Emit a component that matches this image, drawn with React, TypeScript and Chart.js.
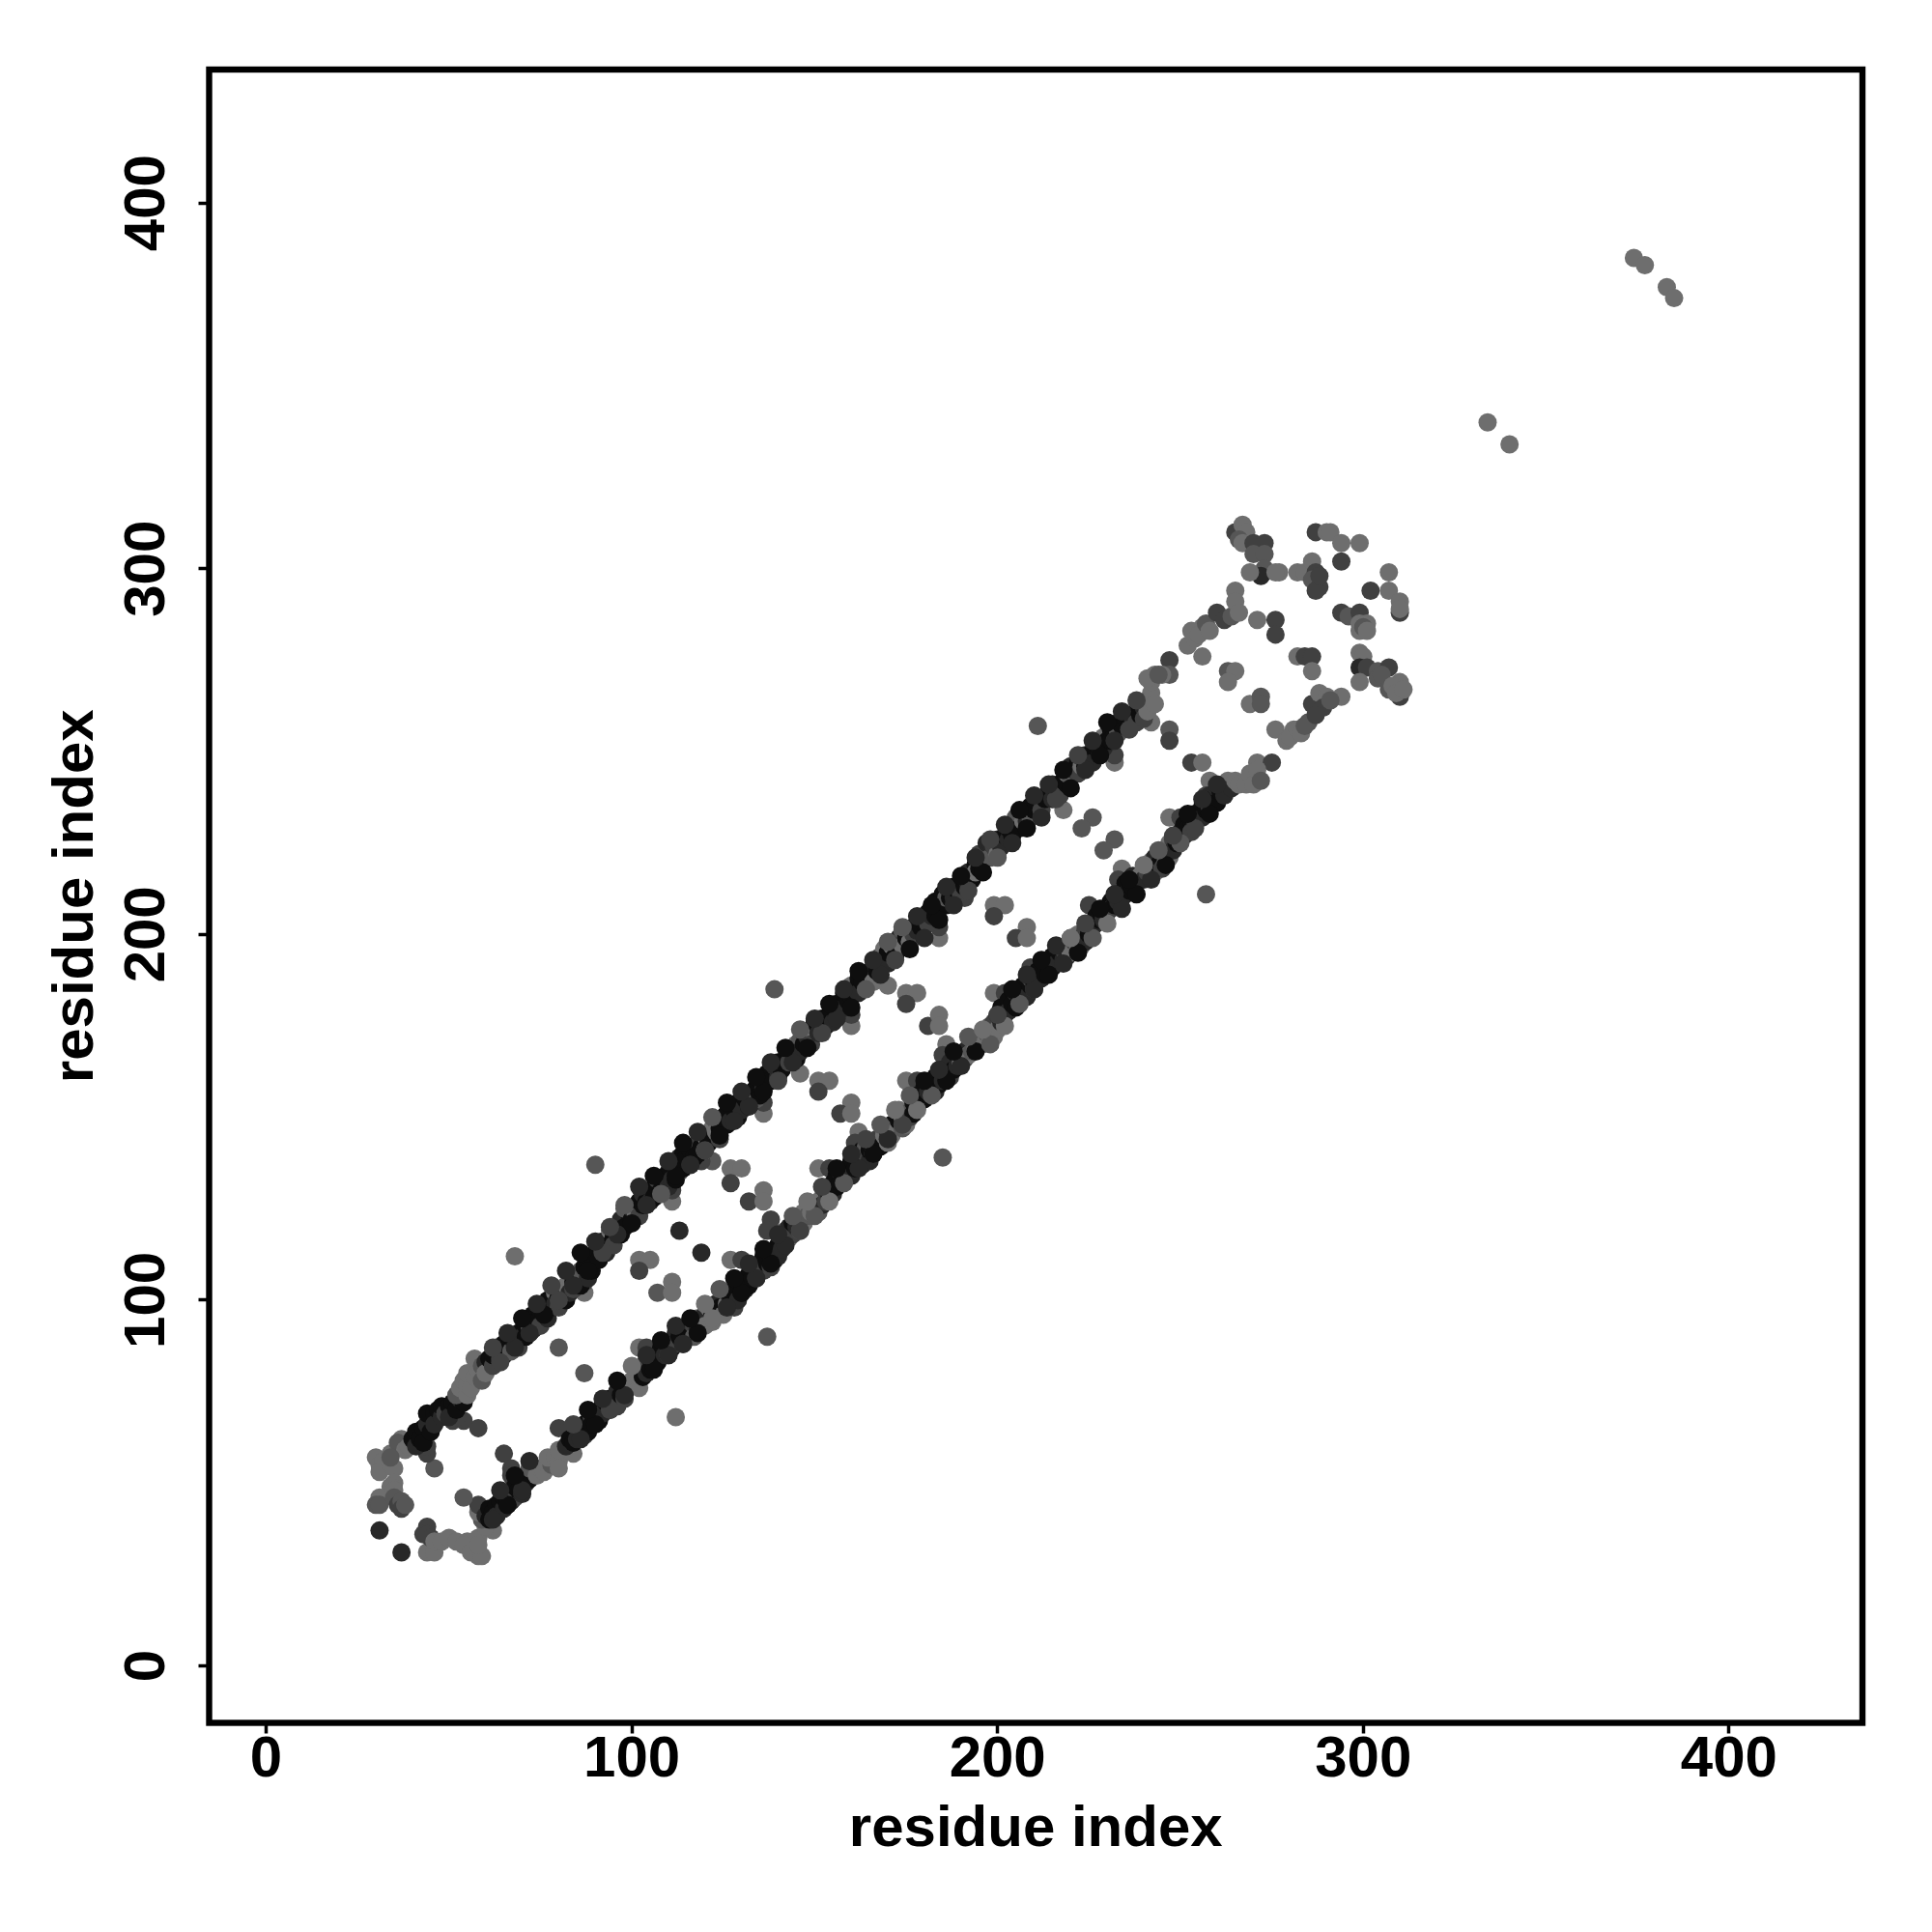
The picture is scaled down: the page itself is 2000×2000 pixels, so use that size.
import React, { useEffect, useRef } from "react";
import { Chart, registerables } from "chart.js";

Chart.register(...registerables);

const axisTicks = [0, 100, 200, 300, 400];
const axisTitle = "residue index";

const upperOuterX = [62,66,70,74,78,82,86,90,94,98,102,106,110,114,118,122,126,130,134,138,142,146,150,154,158,162,166,170,174,178,182,186,190,194,198,202,206,210,214,218,222,226,230,234,238];
const upperOuterY = [87,91,95,99,104,108,113,116,120,126,131,134,138,143,146,150,154,157,161,165,169,174,177,181,185,190,193,198,202,205,208,213,216,221,226,230,234,238,241,245,249,253,258,261,264];
const upperOuterScore = [3,4,5,4,3,4,5,4,3,2,4,5,4,5,4,2,5,4,5,4,5,2,4,5,4,5,4,2,2,4,5,4,5,4,3,4,5,4,4,5,3,4,5,4,3];

const upperInnerX = [64,68,72,76,80,84,88,92,96,100,104,108,112,116,120,124,128,132,136,140,144,148,152,156,160,164,168,172,176,180,184,188,192,196,200,204,208,212,216,220,224,228,232,236];
const upperInnerY = [83,87,91,96,100,104,108,113,118,121,126,129,134,137,141,145,149,153,157,160,165,169,173,177,180,185,189,193,196,199,204,208,212,217,221,225,229,232,237,240,245,249,253,256];
const upperInnerScore = [3,4,4,5,3,4,5,3,4,5,4,2,5,4,3,5,4,4,5,3,4,5,3,4,5,2,4,3,5,4,5,4,3,5,2,4,5,4,3,5,4,5,4,3];

const lowerOuterX = [64,68,72,84,88,92,96,100,104,108,112,116,120,124,128,132,136,140,144,148,152,156,160,164,168,172,176,180,184,188,192,196,200,204,208,212,216,220,224,228,232,236,240,244,248,252,256,260];
const lowerOuterY = [48,52,56,66,70,73,78,82,85,89,93,95,99,103,106,110,114,118,123,127,131,136,140,144,148,152,156,160,163,168,172,174,178,185,189,193,197,199,203,207,211,215,219,223,227,233,237,241];
const lowerOuterScore = [4,5,4,3,5,4,5,1,4,5,4,5,1,2,5,4,5,4,2,1,3,5,4,3,2,1,2,5,4,5,2,1,3,5,4,5,4,1,3,5,4,5,1,2,3,5,4,4];

const lowerInnerX = [62,66,70,86,90,94,98,106,110,114,118,122,126,130,134,138,142,146,150,154,158,162,166,170,174,178,182,186,190,194,198,202,206,210,214,218,222,226,230,234,238,242,246,250,254,258];
const lowerInnerY = [40,44,48,62,66,70,74,81,85,88,91,95,98,102,106,110,115,119,123,127,132,136,140,144,148,152,156,160,164,168,170,175,181,185,189,192,195,199,203,207,211,215,219,225,229,233];
const lowerInnerScore = [4,5,4,4,5,3,4,5,4,4,5,1,4,5,4,5,4,3,2,1,2,4,5,4,3,1,2,5,4,5,2,1,2,4,5,4,5,2,1,4,5,4,5,2,3,5];

const upperX = [
  40,41,41,42,43,43,44,44,45,46,46,47,48,48,49,50,50,51,52,53,
  54,52,53,54,55,55,56,55,57,58,59,57,59,60,60,61,62,62,63,64,
  64,65,65,66,67,67,68,69,69,70,71,71,72,72,73,73,74,75,75,76,
  77,77,78,79,79,80,80,81,82,82,83,84,84,85,86,86,87,88,88,89,
  90,91,92,92,93,94,94,95,95,96,97,97,98,99,98,100,100,101,102,102,
  103,103,104,105,105,106,107,107,108,109,110,110,111,112,112,113,113,114,114,115,
  116,116,117,118,118,119,120,120,121,122,122,123,123,124,124,125,126,126,127,128,
  129,129,130,131,132,133,134,134,135,136,136,137,138,139,140,140,141,142,143,144,
  145,145,146,146,147,147,148,149,149,150,151,152,153,154,155,156,156,157,158,158,
  159,160,160,161,162,162,163,164,165,166,166,167,168,168,169,169,170,170,171,172,
  172,173,173,174,174,175,176,177,177,178,179,179,180,181,181,182,183,183,184,185,
  186,186,187,188,188,189,190,190,191,192,192,193,194,194,195,195,196,197,197,198,
  198,199,200,200,201,202,203,203,204,205,205,206,207,207,208,209,209,210,211,212,
  213,214,215,215,216,217,218,219,219,220,220,221,222,222,223,224,224,225,226,226,
  227,228,228,229,229,230,231,231,232,233,233,234,235,236,236,237,238,238,239,240,
  240,241,241,242,243,242,243,241,245,244,
];
const upperY = [
  62,60,64,62,65,61,66,69,64,69,66,70,68,71,69,71,68,72,70,73,
  72,74,76,78,74,77,76,80,79,81,78,84,82,83,80,84,82,85,87,84,
  87,85,88,87,90,86,88,91,87,90,93,90,91,93,96,92,94,97,93,98,
  95,100,98,102,99,101,98,103,100,104,102,105,103,107,104,108,109,106,110,108,
  113,111,114,116,113,116,119,117,115,120,122,118,120,124,125,122,125,124,127,123,
  126,129,127,130,127,128,131,133,130,132,131,135,133,137,133,135,139,136,140,139,
  137,141,139,143,140,142,141,145,143,147,144,149,146,147,144,150,148,151,149,152,
  150,154,152,155,153,157,155,158,156,160,158,162,160,164,161,165,163,166,165,168,
  170,166,171,168,173,170,172,174,170,176,173,177,175,178,176,181,178,180,184,180,
  182,186,183,185,188,184,187,189,188,191,187,190,194,191,193,196,192,195,197,194,
  198,196,199,201,197,199,198,202,200,201,204,202,203,206,203,205,209,205,207,211,
  208,210,210,213,210,212,214,211,213,217,214,215,219,217,218,222,220,222,225,221,
  225,224,226,222,224,227,226,229,227,230,232,229,233,231,231,235,232,234,236,234,
  237,239,237,241,240,238,242,241,244,246,243,245,247,244,246,249,246,248,250,247,
  251,249,252,254,251,253,256,253,255,258,255,257,259,257,260,259,261,258,260,262,
  259,264,261,266,263,269,271,270,271,271,
];
const upperScore = [
  5,4,5,5,5,5,4,5,5,5,4,5,4,5,3,5,4,5,5,4,
  5,2,1,1,1,1,1,1,1,1,2,1,2,4,1,5,3,5,5,3,
  5,4,5,5,5,2,5,5,3,4,5,5,5,2,5,4,5,5,3,5,
  4,5,5,1,4,5,3,5,5,1,4,5,3,5,5,2,5,4,5,5,
  5,5,2,5,4,5,1,5,3,1,4,5,5,5,2,5,4,1,5,3,
  5,4,5,5,4,5,5,3,5,5,4,5,4,5,5,2,4,5,5,5,
  4,5,5,3,5,5,1,1,5,1,5,2,1,5,3,4,5,5,4,5,
  5,5,4,5,5,5,2,5,5,5,4,5,5,4,4,5,5,5,3,1,
  1,5,2,4,3,5,4,1,3,5,4,5,5,5,4,5,5,5,5,4,
  5,1,5,5,5,4,5,5,5,4,1,5,2,5,5,1,4,5,1,5,
  2,5,4,2,1,5,1,5,3,4,5,5,5,5,3,4,5,5,5,5,
  5,2,5,5,4,5,5,3,5,4,4,5,5,1,5,3,5,1,4,2,
  4,3,4,1,4,5,4,5,5,5,2,5,5,1,4,5,2,5,5,3,
  5,5,4,4,5,3,5,5,1,4,2,5,5,3,1,4,5,1,5,4,
  5,4,5,1,4,5,5,5,5,4,2,5,5,5,5,4,5,3,5,4,
  3,1,1,1,1,1,1,1,1,2,
];

const lowerX = [
  60,61,61,62,63,63,64,65,65,66,67,67,68,68,69,70,70,71,71,72,
  73,72,74,75,76,77,78,77,79,80,80,80,84,82,83,84,85,85,86,87,
  87,88,89,89,90,91,92,92,93,94,94,95,96,96,97,98,98,99,100,101,
  102,102,103,103,104,105,105,106,107,107,108,109,110,110,111,112,112,113,114,115,
  116,116,117,117,118,118,119,120,120,121,122,122,123,123,124,125,126,126,127,128,
  128,129,130,130,131,132,132,133,134,134,135,136,136,137,138,138,139,140,140,141,
  141,142,142,143,143,144,144,145,146,146,147,147,148,149,149,150,151,151,152,152,
  153,153,154,155,155,156,156,157,157,158,159,160,160,161,162,163,163,164,164,165,
  165,166,166,167,168,169,170,170,171,171,172,173,174,174,175,175,176,177,177,178,
  178,179,180,180,181,182,183,183,184,185,185,186,187,187,188,189,189,190,191,191,
  192,192,193,194,194,195,196,196,197,198,198,199,199,200,200,201,201,202,203,203,
  204,205,205,206,207,207,208,209,209,210,210,211,212,212,213,214,215,215,216,217,
  218,218,219,219,220,220,221,222,222,223,223,224,224,225,225,226,227,227,228,229,
  229,230,231,231,232,233,233,234,235,235,236,237,237,238,239,240,240,241,241,242,
  243,243,244,245,245,246,246,247,247,248,248,249,250,250,251,251,252,253,253,254,
  254,255,256,256,257,258,258,259,260,260,261,262,262,263,264,265,266,268,269,270,271,272,
];
const lowerY = [
  41,43,40,42,44,41,45,43,46,44,47,45,46,49,48,49,47,52,50,51,
  53,54,52,54,53,55,55,57,57,56,59,54,58,60,62,61,64,62,65,63,
  66,64,68,66,69,67,71,69,72,70,73,72,75,71,74,76,73,76,78,77,
  76,79,79,82,80,84,81,82,85,83,87,85,88,85,87,91,88,90,88,92,
  90,94,93,90,95,92,93,96,93,98,96,94,97,99,98,96,99,102,101,98,
  103,100,105,102,103,107,104,106,109,106,110,108,112,110,113,109,111,115,112,118,
  114,116,119,120,117,118,121,120,122,119,124,121,123,126,124,125,127,124,128,126,
  130,127,129,132,129,131,134,135,132,134,136,134,138,136,139,137,141,140,142,138,
  141,143,140,144,142,145,143,146,148,145,147,149,147,150,151,148,150,154,151,156,
  153,155,158,155,157,160,157,161,159,163,160,162,161,165,163,167,164,165,168,166,
  169,167,168,171,169,170,172,170,173,171,175,172,176,174,178,176,180,178,182,179,
  181,180,184,182,186,184,183,186,188,185,187,190,188,191,189,193,191,194,192,195,
  193,196,194,197,195,199,198,196,200,197,199,201,198,203,200,202,205,203,204,207,
  204,206,209,207,208,211,209,210,214,211,212,216,213,215,216,218,215,217,219,220,
  217,221,219,223,218,220,222,225,221,226,223,225,228,226,230,227,229,231,228,233,
  230,232,235,232,234,238,235,237,240,236,239,241,238,242,240,242,241,241,244,241,245,242,
];
const lowerScore = [
  4,5,5,5,5,4,5,4,5,5,5,4,3,5,5,5,4,5,4,5,
  5,2,1,1,1,1,2,1,1,1,1,1,1,4,5,5,5,4,5,3,
  5,5,3,5,5,5,5,4,5,4,5,5,4,3,5,5,3,4,1,1,
  1,1,5,3,4,5,5,5,5,5,5,4,2,3,5,4,3,5,4,5,
  5,4,3,2,2,4,1,4,1,1,5,1,2,4,5,1,1,3,5,3,
  5,4,5,5,4,5,5,5,5,4,5,3,5,5,4,3,5,5,4,5,
  4,5,2,4,1,3,5,4,1,2,1,1,2,1,1,2,1,2,1,4,
  4,3,5,5,4,5,5,4,5,5,5,4,5,5,5,4,5,3,2,4,
  5,1,3,3,5,1,1,4,5,1,1,5,2,1,2,1,3,5,5,5,
  5,5,5,5,4,5,4,5,5,5,4,5,3,4,5,5,4,1,5,3,
  4,1,2,4,1,2,4,1,2,1,2,1,3,1,4,4,5,5,5,4,
  5,5,4,5,5,5,4,5,3,3,5,5,4,5,5,4,5,5,4,5,
  4,3,4,2,1,1,3,1,1,1,5,3,4,5,5,5,5,4,5,5,
  4,5,5,3,5,5,4,5,5,4,5,4,5,4,1,1,4,3,2,1,
  1,4,5,2,3,2,1,1,1,3,4,5,4,5,5,4,5,5,3,5,
  4,5,5,4,5,4,3,5,4,5,5,2,4,1,4,1,1,1,1,1,1,2,
];

const startX = [
  30,31,32,31,34,34,35,35,34,35,31,30,31,35,36,37,37,38,31,37,
  44,46,44,43,44,45,46,48,50,52,55,54,57,56,58,59,58,58,62,60,
  59,58,58,54,65,67,67,68,46,44,44,58,54,51,52,37,36,38,34,39,
];
const startY = [
  57,55,56,53,55,58,54,50,49,48,46,44,44,46,44,45,43,44,37,31,
  31,31,38,36,36,35,34,34,35,34,34,33,31,31,30,30,35,33,37,38,
  40,42,44,46,58,54,52,50,54,58,60,65,67,67,68,62,61,59,57,60,
];
const startScore = [
  1,1,1,1,1,1,1,1,1,1,1,2,2,2,3,2,3,2,4,4,
  1,1,3,3,3,3,1,1,1,1,1,1,1,1,1,1,1,1,1,1,
  2,1,3,2,3,3,3,3,2,3,3,3,3,3,3,1,2,1,2,1,
];

const scatterX = [
  80,87,102,104,80,68,90,112,137,119,113,102,105,102,107,111,111,127,130,127,
  130,127,136,132,136,138,137,122,119,115,111,111,87,87,146,151,154,151,160,157,
  160,136,136,162,161,151,154,175,178,160,160,173,139,199,202,199,208,205,208,184,
  184,191,170,175,178,175,181,184,184,186,185,199,202,209,185,232,232,253,256,218,
  226,223,232,229,234,233,225,247,250,257,211,242,247,247,258,257,
];
const scatterY = [
  87,80,87,87,65,112,137,68,90,113,119,111,111,108,102,105,102,111,111,136,
  136,132,130,127,127,122,119,138,138,138,127,130,102,105,162,160,160,157,154,151,
  151,151,154,146,143,136,136,160,160,175,178,152,185,208,208,205,202,199,199,199,
  202,210,186,184,184,181,175,178,175,170,167,184,184,191,139,247,249,247,247,234,
  232,229,226,223,218,215,208,232,232,211,257,258,256,253,242,238,
];
const scatterScore = [
  2,2,1,3,3,1,2,1,2,4,4,1,1,3,2,1,1,1,3,1,
  1,3,1,3,1,3,3,2,3,1,1,3,1,3,1,1,1,3,1,3,
  1,1,3,1,3,1,3,1,3,1,3,1,2,1,1,3,1,3,1,1,
  3,3,1,1,1,3,3,1,1,1,3,1,3,3,2,1,3,3,1,1,
  2,2,2,2,1,3,3,1,3,2,2,1,2,3,1,3,
];

const endX = [
  247,247,252,254,256,256,253,255,257,258,260,262,264,265,265,266,263,265,263,269,
  272,272,271,276,276,271,275,276,279,281,280,282,283,285,284,286,288,290,294,289,
  287,291,282,284,286,286,265,267,268,266,267,270,273,270,273,273,272,269,277,276,
  287,290,291,294,299,294,282,284,286,287,286,288,287,288,307,302,307,310,310,310,
  294,296,299,299,299,301,300,301,299,300,299,301,304,304,307,305,307,310,299,310,308,309,311,
];
const endY = [
  275,271,279,281,276,284,283,282,285,283,288,286,287,294,291,288,272,272,269,263,
  265,263,286,286,282,247,247,256,253,256,254,256,255,258,257,263,266,265,265,262,
  260,264,276,276,276,272,310,312,310,308,307,307,307,304,304,300,298,299,299,299,
  310,310,310,307,307,302,299,299,302,299,297,295,294,298,299,294,294,288,291,289,
  288,287,288,283,285,285,284,283,277,276,273,273,272,270,273,271,267,265,269,269,268,266,267,
];
const endScore = [
  3,2,1,1,1,1,1,1,2,1,3,3,2,1,1,1,2,1,1,1,
  2,2,1,3,3,1,3,1,1,1,1,1,1,2,2,3,1,1,1,3,
  3,2,1,3,3,1,3,1,1,2,1,3,3,2,2,2,4,1,1,1,
  3,1,1,1,1,3,1,1,1,3,2,3,3,3,1,3,1,3,1,1,
  3,2,3,1,1,1,2,1,1,1,4,3,2,2,3,2,2,3,1,1,1,1,1,
];

const farX = [334, 340, 374, 377, 383, 385];
const farY = [340, 334, 385, 383, 377, 374];
const farScore = [1, 1, 1, 1, 1, 1];

const AXIS_MIN = -15.6;
const AXIS_MAX = 436.5;
const FONT = '"Liberation Sans", Arial, sans-serif';
const GREYS: Record<number, string> = {
  1: "#6e6e6e",
  2: "#565656",
  3: "#404040",
  4: "#282828",
  5: "#0e0e0e",
};

function makeDataset(label: string, xs: number[], ys: number[], scores: number[]) {
  return {
    label,
    data: xs.map((x, i) => ({ x, y: ys[i] })),
    pointBackgroundColor: scores.map((s) => GREYS[s] ?? GREYS[1]),
    pointBorderWidth: 0,
    pointRadius: 9.5,
    pointHoverRadius: 9.5,
    showLine: false,
  };
}

const framePlugin = {
  id: "frame",
  afterDatasetsDraw(chart: any) {
    const { ctx, chartArea: a } = chart;
    ctx.save();
    ctx.strokeStyle = "#000";
    ctx.lineWidth = 6.4;
    ctx.strokeRect(a.left, a.top, a.right - a.left, a.bottom - a.top);
    ctx.restore();
  },
};

function axisOptions(sideSize: number, isX: boolean) {
  return {
    type: "linear",
    min: AXIS_MIN,
    max: AXIS_MAX,
    afterBuildTicks(scale: any) {
      scale.ticks = axisTicks.map((value) => ({ value }));
    },
    afterFit(scale: any) {
      if (isX) scale.height = sideSize;
      else scale.width = sideSize;
    },
    border: { display: false },
    grid: {
      drawOnChartArea: false,
      drawTicks: true,
      tickLength: 11,
      tickWidth: 3.5,
      tickColor: "#000",
    },
    ticks: {
      autoSkip: false,
      includeBounds: false,
      color: "#000",
      font: { family: FONT, size: 60, weight: "bold" },
      padding: isX ? -8 : 2,
      ...(isX
        ? { maxRotation: 0, minRotation: 0 }
        : { minRotation: 90, maxRotation: 90, crossAlign: "center" }),
    },
    title: {
      display: true,
      text: axisTitle,
      color: "#000",
      font: { family: FONT, size: 60, weight: "bold" },
      padding: isX ? { top: 0, bottom: 70 } : { top: 43, bottom: 0 },
    },
  };
}

export default function App() {
  const ref = useRef<HTMLCanvasElement>(null);

  useEffect(() => {
    const chart = new Chart(ref.current as HTMLCanvasElement, {
      type: "scatter",
      data: {
        datasets: [
          makeDataset("upper outer", upperOuterX, upperOuterY, upperOuterScore),
          makeDataset("upper inner", upperInnerX, upperInnerY, upperInnerScore),
          makeDataset("lower outer", lowerOuterX, lowerOuterY, lowerOuterScore),
          makeDataset("lower inner", lowerInnerX, lowerInnerY, lowerInnerScore),
          makeDataset("upper", upperX, upperY, upperScore),
          makeDataset("lower", lowerX, lowerY, lowerScore),
          makeDataset("start", startX, startY, startScore),
          makeDataset("scatter", scatterX, scatterY, scatterScore),
          makeDataset("end", endX, endY, endScore),
          makeDataset("far", farX, farY, farScore),
        ],
      },
      options: {
        animation: false,
        responsive: false,
        devicePixelRatio: 1,
        layout: { autoPadding: false, padding: { top: 72, right: 72, bottom: 0, left: 0 } },
        plugins: { legend: { display: false }, tooltip: { enabled: false } },
        scales: {
          x: axisOptions(216.5, true),
          y: axisOptions(216.5, false),
        },
      } as any,
      plugins: [framePlugin],
    });
    return () => chart.destroy();
  }, []);

  return (
    <div style={{ position: "absolute", left: 0, top: 0, width: 2000, height: 2000, background: "#fff" }}>
      <canvas ref={ref} width={2000} height={2000} style={{ display: "block", width: 2000, height: 2000 }} />
    </div>
  );
}
